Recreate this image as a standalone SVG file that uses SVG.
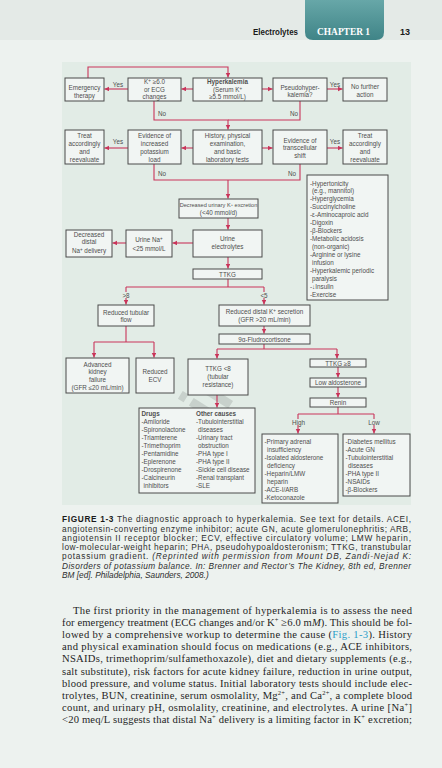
<svg xmlns="http://www.w3.org/2000/svg" width="442" height="768" viewBox="0 0 442 768">
<defs>
<marker id="ah" markerUnits="userSpaceOnUse" markerWidth="5" markerHeight="5" refX="4.5" refY="2.25" orient="auto">
<path d="M0,0 L4.5,2.25 L0,4.5 z" fill="#c9355a"/>
</marker>
<linearGradient id="tab" x1="0" y1="0" x2="0" y2="1">
<stop offset="0" stop-color="#67a7a8"/>
<stop offset="1" stop-color="#3f8487"/>
</linearGradient>
<style>
.b{fill:#f1f5f3;stroke:#4a4a4a;stroke-width:1}
.t{font-family:"Liberation Sans",Arial,sans-serif;font-size:6.3px;fill:#4e4e4e}
.c{text-anchor:middle}
.lbl{font-family:"Liberation Sans",Arial,sans-serif;font-size:6.3px;fill:#4e4e4e}
.ln{fill:none;stroke:#c9355a;stroke-width:1.1}
.ar{marker-end:url(#ah)}
.cap{font-family:"Liberation Sans",Arial,sans-serif;font-size:8.3px;fill:#2e2e2e}
.bd{font-family:"Liberation Serif","Times New Roman",serif;font-size:10.6px;fill:#1e1e1e}
</style>
</defs>
<rect width="442" height="768" fill="#edf2ef"/>
<rect width="442" height="40" fill="#e4eae7"/>
<g id="header">
<path d="M305,0 H384 V32 Q384,40 376,40 H313 Q305,40 305,32 Z" fill="url(#tab)"/>
<text x="253" y="35" font-family="'Liberation Sans',Arial,sans-serif" font-weight="bold" font-size="8.6" fill="#1a1a1a" textLength="45" lengthAdjust="spacingAndGlyphs">Electrolytes</text>
<text x="317" y="35" font-family="'Liberation Serif','Times New Roman',serif" font-weight="bold" font-size="10" fill="#ffffff" textLength="53" lengthAdjust="spacingAndGlyphs">CHAPTER 1</text>
<text x="400" y="35" font-family="'Liberation Sans',Arial,sans-serif" font-weight="bold" font-size="9" fill="#1a1a1a">13</text>
</g>
<rect x="62" y="62" width="349" height="443" fill="#e2ece6"/>
<text transform="translate(218,425) rotate(-58)" font-family="'Liberation Sans',Arial,sans-serif" font-weight="bold" font-size="66" fill="#8d9591" opacity="0.3" text-anchor="middle">l.ir</text>

<g id="connectors">
<path class="ln ar" d="M88,78 V67 H228 V77.5"/>
<path class="ln ar" d="M193,89 H181.5"/>
<path class="ln ar" d="M128,89 H104.5"/>
<path class="ln ar" d="M154,101 V120 H228 V129.5"/>
<path class="ln ar" d="M262,89 H272.5"/>
<path class="ln ar" d="M327,89 H342.5"/>
<path class="ln" d="M300,101 V120 H228"/>
<path class="ln ar" d="M193,148 H181.5"/>
<path class="ln ar" d="M128,148 H104.5"/>
<path class="ln ar" d="M262,148 H272.5"/>
<path class="ln ar" d="M327,148 H342.5"/>
<path class="ln" d="M154,164 V180 H300 V164"/>
<path class="ln ar" d="M228,180 V198.5"/>
<path class="ln ar" d="M228,218 V229.5"/>
<path class="ln ar" d="M193,243 H172.5"/>
<path class="ln ar" d="M126,243 H112.5"/>
<path class="ln ar" d="M228,257 V268.5"/>
<path class="ln" d="M228,279 V287 M126,287 H264"/>
<path class="ln ar" d="M126,287 V304.5"/>
<path class="ln ar" d="M264,287 V304.5"/>
<path class="ln" d="M126,326 V342 M94,342 H154"/>
<path class="ln ar" d="M94,342 V357.5"/>
<path class="ln ar" d="M154,342 V357.5"/>
<path class="ln ar" d="M264,326 V333.5"/>
<path class="ln" d="M264,344 V349 M217,349 H337"/>
<path class="ln ar" d="M217,349 V358.5"/>
<path class="ln ar" d="M337,349 V358.5"/>
<path class="ln ar" d="M338,367 V377.5"/>
<path class="ln ar" d="M338,387 V397.5"/>
<path class="ln ar" d="M217,395 V407.5"/>
<path class="ln" d="M338,407 V414 M298,414 H374"/>
<path class="ln ar" d="M298,414 V433.5"/>
<path class="ln ar" d="M374,414 V433.5"/>
</g>

<g id="edge-labels">
<text class="lbl c" x="118" y="87">Yes</text>
<text class="lbl c" x="335" y="87">Yes</text>
<text class="lbl c" x="118" y="144">Yes</text>
<text class="lbl c" x="335" y="144">Yes</text>
<text class="lbl c" x="162" y="116">No</text>
<text class="lbl c" x="294" y="116">No</text>
<text class="lbl c" x="162" y="176">No</text>
<text class="lbl c" x="292" y="176">No</text>
<rect x="120" y="292" width="12" height="6" fill="#e2ece6"/>
<text class="lbl c" x="126" y="297.5">&gt;8</text>
<rect x="258" y="292" width="12" height="6" fill="#e2ece6"/>
<text class="lbl c" x="264" y="297.5">&lt;5</text>
<rect x="291" y="419" width="15" height="6" fill="#e2ece6"/>
<text class="lbl c" x="298.5" y="424.5">High</text>
<rect x="368" y="419" width="12" height="6" fill="#e2ece6"/>
<text class="lbl c" x="374" y="424.5">Low</text>
</g>

<g id="emergency">
<rect class="b" x="65" y="78" width="39" height="23"/>
<text class="t c" x="84.5" y="90">Emergency</text>
<text class="t c" x="84.5" y="97.5">therapy</text>
</g>
<g id="k60">
<rect class="b" x="128" y="78" width="53" height="23"/>
<text class="t c" x="154.5" y="83.8">K<tspan dy="-2" font-size="4.5">+</tspan><tspan dy="2"> ≥6.0</tspan></text>
<text class="t c" x="154.5" y="91.5">or ECG</text>
<text class="t c" x="154.5" y="99.2">changes</text>
</g>
<g id="hyperkalemia">
<rect class="b" x="193" y="78" width="69" height="23"/>
<text class="t c" x="227.5" y="83.8" font-weight="bold" fill="#2a2a2a">Hyperkalemia</text>
<text class="t c" x="227.5" y="91.5">(Serum K<tspan dy="-2" font-size="4.5">+</tspan></text>
<text class="t c" x="227.5" y="99.2">≥5.5 mmol/L)</text>
</g>
<g id="pseudo">
<rect class="b" x="273" y="78" width="54" height="23"/>
<text class="t c" x="300" y="89.5">Pseudohyper-</text>
<text class="t c" x="300" y="97">kalemia?</text>
</g>
<g id="nofurther">
<rect class="b" x="343" y="78" width="44" height="23"/>
<text class="t c" x="365" y="88.5">No further</text>
<text class="t c" x="365" y="96.5">action</text>
</g>
<g id="treat1">
<rect class="b" x="65" y="130" width="39" height="34"/>
<text class="t c" x="84.5" y="138.3">Treat</text>
<text class="t c" x="84.5" y="146.3">accordingly</text>
<text class="t c" x="84.5" y="154.3">and</text>
<text class="t c" x="84.5" y="162.3">reevaluate</text>
</g>
<g id="load">
<rect class="b" x="128" y="130" width="53" height="34"/>
<text class="t c" x="154.5" y="138.3">Evidence of</text>
<text class="t c" x="154.5" y="146.3">increased</text>
<text class="t c" x="154.5" y="154.3">potassium</text>
<text class="t c" x="154.5" y="162.3">load</text>
</g>
<g id="history">
<rect class="b" x="193" y="130" width="69" height="34"/>
<text class="t c" x="227.5" y="138.3">History, physical</text>
<text class="t c" x="227.5" y="146.3">examination,</text>
<text class="t c" x="227.5" y="154.3">and basic</text>
<text class="t c" x="227.5" y="162.3">laboratory tests</text>
</g>
<g id="shift">
<rect class="b" x="273" y="130" width="54" height="34"/>
<text class="t c" x="300" y="142.5">Evidence of</text>
<text class="t c" x="300" y="150.3">transcellular</text>
<text class="t c" x="300" y="158">shift</text>
</g>
<g id="treat2">
<rect class="b" x="343" y="130" width="44" height="34"/>
<text class="t c" x="365" y="138.3">Treat</text>
<text class="t c" x="365" y="146.3">accordingly</text>
<text class="t c" x="365" y="154.3">and</text>
<text class="t c" x="365" y="162.3">reevaluate</text>
</g>
<g id="causes-list">
<rect class="b" x="307" y="175" width="81" height="125"/>
<text class="t" x="310" y="185.5">-Hypertonicity</text>
<text class="t" x="312" y="193.4">(e.g., mannitol)</text>
<text class="t" x="310" y="201.4">-Hyperglycemia</text>
<text class="t" x="310" y="209.3">-Succinylcholine</text>
<text class="t" x="310" y="217.2">-ε-Aminocaproic acid</text>
<text class="t" x="310" y="225.2">-Digoxin</text>
<text class="t" x="310" y="233.1">-β-Blockers</text>
<text class="t" x="310" y="241">-Metabolic acidosis</text>
<text class="t" x="312" y="249">(non-organic)</text>
<text class="t" x="310" y="256.9">-Arginine or lysine</text>
<text class="t" x="312" y="264.8">infusion</text>
<text class="t" x="310" y="272.7">-Hyperkalemic periodic</text>
<text class="t" x="312" y="280.7">paralysis</text>
<text class="t" x="310" y="288.6">-↓Insulin</text>
<text class="t" x="310" y="296.5">-Exercise</text>
</g>
<g id="decreased-excretion">
<rect class="b" x="179" y="199" width="79" height="19"/>
<text class="t c" x="218.5" y="207.3" style="font-size:5.6px">Decreased urinary K<tspan dy="-1.8" font-size="4">+</tspan><tspan dy="1.8"> excretion</tspan></text>
<text class="t c" x="218.5" y="215">(&lt;40 mmol/d)</text>
</g>
<g id="urine-electrolytes">
<rect class="b" x="193" y="230" width="69" height="27"/>
<text class="t c" x="227.5" y="240.5">Urine</text>
<text class="t c" x="227.5" y="249">electrolytes</text>
</g>
<g id="urine-na">
<rect class="b" x="126" y="230" width="46" height="27"/>
<text class="t c" x="149" y="242">Urine Na<tspan dy="-2" font-size="4.5">+</tspan></text>
<text class="t c" x="149" y="250.5">&lt;25 mmol/L</text>
</g>
<g id="distal-na">
<rect class="b" x="66" y="230" width="46" height="27"/>
<text class="t c" x="89" y="236.5">Decreased</text>
<text class="t c" x="89" y="244.3">distal</text>
<text class="t c" x="89" y="252.5">Na<tspan dy="-2" font-size="4.5">+</tspan><tspan dy="2"> delivery</tspan></text>
</g>
<g id="ttkg">
<rect class="b" x="193" y="269" width="69" height="10"/>
<text class="t c" x="227.5" y="276.5">TTKG</text>
</g>
<g id="tubular-flow">
<rect class="b" x="98" y="305" width="56" height="21"/>
<text class="t c" x="126" y="314.5">Reduced tubular</text>
<text class="t c" x="126" y="322.3">flow</text>
</g>
<g id="kidney-failure">
<rect class="b" x="66" y="358" width="63" height="35"/>
<text class="t c" x="97.5" y="366.5">Advanced</text>
<text class="t c" x="97.5" y="374.3">kidney</text>
<text class="t c" x="97.5" y="382.3">failure</text>
<text class="t c" x="97.5" y="390.3">(GFR ≤20 mL/min)</text>
</g>
<g id="ecv">
<rect class="b" x="136" y="358" width="38" height="35"/>
<text class="t c" x="155" y="374">Reduced</text>
<text class="t c" x="155" y="381.7">ECV</text>
</g>
<g id="distal-secretion">
<rect class="b" x="219" y="305" width="91" height="21"/>
<text class="t c" x="264.5" y="314">Reduced distal K<tspan dy="-2" font-size="4.5">+</tspan><tspan dy="2"> secretion</tspan></text>
<text class="t c" x="264.5" y="321.7">(GFR &gt;20 mL/min)</text>
</g>
<g id="fludro">
<rect class="b" x="219" y="334" width="91" height="10"/>
<text class="t c" x="264.5" y="341.5">9α-Fludrocortisone</text>
</g>
<g id="ttkg-lt8">
<rect class="b" x="188" y="359" width="60" height="36"/>
<text class="t c" x="218" y="370.5">TTKG &lt;8</text>
<text class="t c" x="218" y="378.8">(tubular</text>
<text class="t c" x="218" y="386.5">resistance)</text>
</g>
<g id="ttkg-ge8">
<rect class="b" x="310" y="359" width="56" height="8"/>
<text class="t c" x="338" y="365.5">TTKG ≥8</text>
</g>
<g id="low-aldo">
<rect class="b" x="310" y="378" width="56" height="9"/>
<text class="t c" x="338" y="385">Low aldosterone</text>
</g>
<g id="renin">
<rect class="b" x="310" y="398" width="56" height="9"/>
<text class="t c" x="338" y="405">Renin</text>
</g>
<g id="drugs">
<rect class="b" x="139" y="408" width="116" height="85"/>
<text class="t" x="141.5" y="415.5" font-weight="bold" fill="#2a2a2a">Drugs</text>
<text class="t" x="141.5" y="423.5">-Amiloride</text>
<text class="t" x="141.5" y="431.5">-Spironolactone</text>
<text class="t" x="141.5" y="439.5">-Triamterene</text>
<text class="t" x="141.5" y="447.5">-Trimethoprim</text>
<text class="t" x="141.5" y="455.5">-Pentamidine</text>
<text class="t" x="141.5" y="463.5">-Eplerenone</text>
<text class="t" x="141.5" y="471.5">-Drospirenone</text>
<text class="t" x="141.5" y="479.5">-Calcineurin</text>
<text class="t" x="143.5" y="487.5">inhibitors</text>
<text class="t" x="196" y="415.5" font-weight="bold" fill="#2a2a2a">Other causes</text>
<text class="t" x="196" y="423.5">-Tubulointerstitial</text>
<text class="t" x="198" y="431.5">diseases</text>
<text class="t" x="196" y="439.5">-Urinary tract</text>
<text class="t" x="198" y="447.5">obstruction</text>
<text class="t" x="196" y="455.5">-PHA type I</text>
<text class="t" x="196" y="463.5">-PHA type II</text>
<text class="t" x="196" y="471.5">-Sickle cell disease</text>
<text class="t" x="196" y="479.5">-Renal transplant</text>
<text class="t" x="196" y="487.5">-SLE</text>
</g>
<g id="high-renin">
<rect class="b" x="262" y="434" width="76" height="69"/>
<text class="t" x="264.5" y="444">-Primary adrenal</text>
<text class="t" x="267" y="452">insufficiency</text>
<text class="t" x="264.5" y="460">-Isolated aldosterone</text>
<text class="t" x="267" y="468">deficiency</text>
<text class="t" x="264.5" y="476">-Heparin/LMW</text>
<text class="t" x="267" y="484">heparin</text>
<text class="t" x="264.5" y="492">-ACE-I/ARB</text>
<text class="t" x="264.5" y="500">-Ketoconazole</text>
</g>
<g id="low-renin">
<rect class="b" x="343" y="434" width="67" height="62"/>
<text class="t" x="345.5" y="443.5">-Diabetes mellitus</text>
<text class="t" x="345.5" y="451.5">-Acute GN</text>
<text class="t" x="345.5" y="459.5">-Tubulointerstitial</text>
<text class="t" x="348" y="467.5">diseases</text>
<text class="t" x="345.5" y="475.5">-PHA type II</text>
<text class="t" x="345.5" y="483.5">-NSAIDs</text>
<text class="t" x="345.5" y="491.5">-β-Blockers</text>
</g>

<g id="caption">
<text class="cap" x="62" y="522" textLength="349" lengthAdjust="spacing"><tspan font-weight="bold" fill="#1a1a1a">FIGURE 1-3</tspan> The diagnostic approach to hyperkalemia. See text for details. ACEI,</text>
<text class="cap" x="62" y="531.5" textLength="349" lengthAdjust="spacing">angiotensin-converting enzyme inhibitor; acute GN, acute glomerulonephritis; ARB,</text>
<text class="cap" x="62" y="540.8" textLength="349" lengthAdjust="spacing">angiotensin II receptor blocker; ECV, effective circulatory volume; LMW heparin,</text>
<text class="cap" x="62" y="550" textLength="349" lengthAdjust="spacing">low-molecular-weight heparin; PHA, pseudohypoaldosteronism; TTKG, transtubular</text>
<text class="cap" x="62" y="559.3" textLength="349" lengthAdjust="spacing">potassium gradient. <tspan font-style="italic">(Reprinted with permission from Mount DB, Zandi-Nejad K:</tspan></text>
<text class="cap" x="62" y="568.5" textLength="349" lengthAdjust="spacing" font-style="italic">Disorders of potassium balance. In: Brenner and Rector’s The Kidney, 8th ed, Brenner</text>
<text class="cap" x="62" y="577.8" font-style="italic">BM [ed]. Philadelphia, Saunders, 2008.)</text>
</g>

<g id="body-text">
<text class="bd" x="73" y="614" textLength="339" lengthAdjust="spacing">The first priority in the management of hyperkalemia is to assess the need</text>
<text class="bd" x="62" y="626.1" textLength="350" lengthAdjust="spacing">for emergency treatment (ECG changes and/or K<tspan dy="-4" font-size="6.5">+</tspan><tspan dy="4"> ≥6.0 m</tspan><tspan font-style="italic">M</tspan>). This should be fol-</text>
<text class="bd" x="62" y="638.2" textLength="350" lengthAdjust="spacing">lowed by a comprehensive workup to determine the cause (<tspan fill="#2b9dc9">Fig. 1-3</tspan>). History</text>
<text class="bd" x="62" y="650.3" textLength="350" lengthAdjust="spacing">and physical examination should focus on medications (e.g., ACE inhibitors,</text>
<text class="bd" x="62" y="662.4" textLength="350" lengthAdjust="spacing">NSAIDs, trimethoprim/sulfamethoxazole), diet and dietary supplements (e.g.,</text>
<text class="bd" x="62" y="674.5" textLength="350" lengthAdjust="spacing">salt substitute), risk factors for acute kidney failure, reduction in urine output,</text>
<text class="bd" x="62" y="686.6" textLength="350" lengthAdjust="spacing">blood pressure, and volume status. Initial laboratory tests should include elec-</text>
<text class="bd" x="62" y="698.7" textLength="350" lengthAdjust="spacing">trolytes, BUN, creatinine, serum osmolality, Mg<tspan dy="-4" font-size="6.5">2+</tspan><tspan dy="4">, and Ca</tspan><tspan dy="-4" font-size="6.5">2+</tspan><tspan dy="4">, a complete blood</tspan></text>
<text class="bd" x="62" y="710.8" textLength="350" lengthAdjust="spacing">count, and urinary pH, osmolality, creatinine, and electrolytes. A urine [Na<tspan dy="-4" font-size="6.5">+</tspan><tspan dy="4">]</tspan></text>
<text class="bd" x="62" y="722.9" textLength="350" lengthAdjust="spacing">&lt;20 meq/L suggests that distal Na<tspan dy="-4" font-size="6.5">+</tspan><tspan dy="4"> delivery is a limiting factor in K</tspan><tspan dy="-4" font-size="6.5">+</tspan><tspan dy="4"> excretion;</tspan></text>
</g>
</svg>
